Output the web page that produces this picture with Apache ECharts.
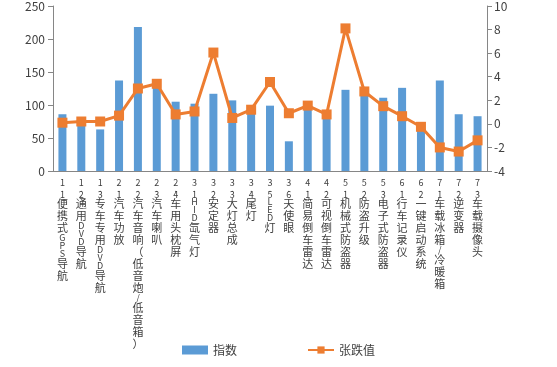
<!DOCTYPE html>
<html><head><meta charset="utf-8">
<script src="https://cdn.jsdelivr.net/npm/echarts@6/dist/echarts.min.js"></script>
<style>html,body{margin:0;padding:0;background:#fff}#c{width:557px;height:367px}</style>
</head><body><div id="c"></div>
<script>
var categories = ["1.1便携式GPS导航","1.2通用DVD导航","1.3专车专用DVD导航","2.1汽车功放","2.2汽车音响（低音炮/低音箱）","2.3汽车喇叭","2.4车用头枕屏","3.1HID氙气灯","3.2安定器","3.3大灯总成","3.4尾灯","3.5LED灯","3.6天使眼","4.1简易倒车雷达","4.2可视倒车雷达","5.1机械式防盗器","5.2防盗升级","5.3电子式防盗器","6.1行车记录仪","6.2一键启动系统","7.1车载冰箱/冷暖箱","7.2逆变器","7.3车载摄像头"];
var indexValues = [86, 79, 63, 137, 218, 128, 105, 102, 117, 107, 92, 99, 45, 100, 92, 123, 126, 111, 126, 70, 137, 86, 83];
var changeValues = [0.1, 0.2, 0.2, 0.7, 3.0, 3.4, 0.8, 1.05, 6.05, 0.5, 1.2, 3.55, 0.9, 1.55, 0.8, 8.1, 2.75, 1.5, 0.65, -0.25, -2.0, -2.35, -1.4];
var leftTicks = {min: 0, max: 250, interval: 50};
var rightTicks = {min: -4, max: 10, interval: 2};
var seriesNames = ["指数", "张跌值"];

var FONT = '"Noto Sans CJK SC","Noto Sans",sans-serif';
function vert(s){
  var out = [];
  for (var i=0;i<s.length;i++){
    var ch = s[i];
    var st;
    if (ch === '.') st = 'd';
    else if (/[0-9]/.test(ch)) st = 'n';
    else if (/[A-Za-z\/]/.test(ch)) st = 'a';
    else st = 'c';
    out.push('{' + st + '|' + ch + '}');
  }
  return out.join('\n');
}
var chart = echarts.init(document.getElementById('c'), null, {renderer:'canvas'});
chart.setOption({
  animation:false,
  textStyle:{fontFamily:FONT},
  grid:{left:53,right:70,top:6,bottom:196},
  legend:{
    bottom:6, left:'center', itemGap:70, itemWidth:26, itemHeight:9,
    textStyle:{fontSize:12,color:'#404040',fontFamily:FONT},
    data:[{name:seriesNames[0],icon:'rect'},{name:seriesNames[1]}]
  },
  xAxis:{
    type:'category', data:categories,
    axisLine:{lineStyle:{color:'#868686'}},
    axisTick:{alignWithLabel:false,length:5,lineStyle:{color:'#868686'}},
    axisLabel:{
      interval:0, margin:8, color:'#404040', verticalAlign:'top', align:'center',
      formatter:function(v){return vert(v);},
      rich:{
        c:{fontSize:11,lineHeight:12,fontFamily:FONT,color:'#404040'},
        n:{fontSize:9,lineHeight:7,fontFamily:FONT,color:'#404040'},
        d:{fontSize:9,lineHeight:5,fontFamily:FONT,color:'#404040'},
        a:{fontSize:9,lineHeight:8,fontFamily:FONT,color:'#404040'}
      }
    }
  },
  yAxis:[
    {type:'value', min:leftTicks.min, max:leftTicks.max, interval:leftTicks.interval,
     axisLine:{show:true,lineStyle:{color:'#868686'}},
     axisTick:{show:true,length:5,lineStyle:{color:'#868686'}},
     splitLine:{show:false},
     axisLabel:{fontSize:12,color:'#404040',margin:8,fontFamily:FONT}},
    {type:'value', position:'right', min:rightTicks.min, max:rightTicks.max, interval:rightTicks.interval,
     axisLine:{show:true,lineStyle:{color:'#868686'}},
     axisTick:{show:true,length:5,lineStyle:{color:'#868686'}},
     splitLine:{show:false},
     axisLabel:{fontSize:12,color:'#404040',margin:7,fontFamily:FONT}}
  ],
  series:[
    {name:seriesNames[0], type:'bar', data:indexValues, barWidth:8,
     itemStyle:{color:'#5B9BD5'}},
    {name:seriesNames[1], type:'line', yAxisIndex:1, data:changeValues,
     symbol:'rect', symbolSize:10,
     lineStyle:{color:'#ED7D31',width:3},
     itemStyle:{color:'#ED7D31'}, z:3}
  ]
});
</script></body></html>
